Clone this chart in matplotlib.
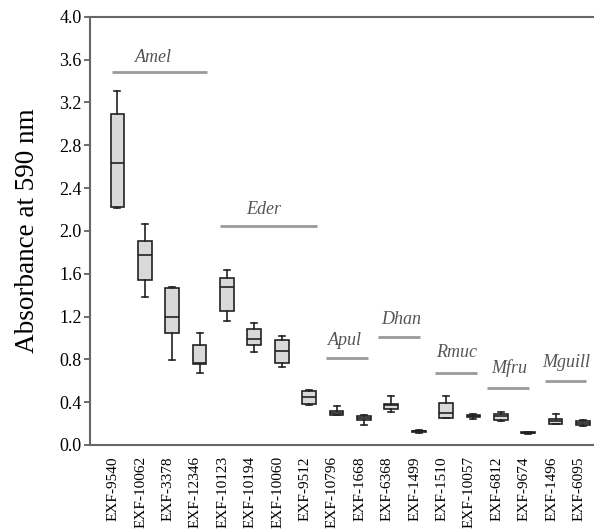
import matplotlib.pyplot as plt

# strain labels (x axis)
strains = ['EXF-9540', 'EXF-10062', 'EXF-3378', 'EXF-12346', 'EXF-10123', 'EXF-10194',
           'EXF-10060', 'EXF-9512', 'EXF-10796', 'EXF-1668', 'EXF-6368', 'EXF-1499',
           'EXF-1510', 'EXF-10057', 'EXF-6812', 'EXF-9674', 'EXF-1496', 'EXF-6095']

# box statistics
whis_lo = [2.21, 1.38, 0.79, 0.67, 1.16, 0.87, 0.73, 0.37, 0.28, 0.19, 0.31, 0.11,
           0.25, 0.24, 0.22, 0.10, 0.20, 0.18]
q1 = [2.22, 1.54, 1.05, 0.76, 1.25, 0.93, 0.77, 0.38, 0.28, 0.23, 0.34, 0.12,
      0.25, 0.26, 0.23, 0.11, 0.20, 0.19]
med = [2.63, 1.77, 1.20, 0.77, 1.48, 0.99, 0.88, 0.45, 0.30, 0.25, 0.37, 0.13,
       0.30, 0.27, 0.27, 0.11, 0.22, 0.21]
q3 = [3.09, 1.91, 1.47, 0.93, 1.56, 1.08, 0.98, 0.50, 0.32, 0.27, 0.38, 0.13,
      0.39, 0.28, 0.29, 0.12, 0.24, 0.22]
whis_hi = [3.31, 2.06, 1.48, 1.05, 1.63, 1.14, 1.02, 0.51, 0.36, 0.28, 0.46, 0.14,
           0.46, 0.29, 0.31, 0.12, 0.29, 0.23]

# species groups: name, line start, line end, line height, label x, label y
groups = ['Amel', 'Eder', 'Apul', 'Dhan', 'Rmuc', 'Mfru', 'Mguill']
grp_start = [-0.18, 3.76, 7.63, 9.53, 11.6, 13.5, 15.6]
grp_end = [3.28, 7.3, 9.16, 11.06, 13.14, 15.04, 17.1]
grp_y = [3.48, 2.05, 0.81, 1.01, 0.67, 0.53, 0.60]
lab_x = [1.31, 5.36, 8.32, 10.36, 12.4, 14.3, 16.4]
lab_y = [3.62, 2.20, 0.98, 1.17, 0.86, 0.72, 0.77]

plt.rcParams['font.family'] = ['Liberation Serif', 'DejaVu Serif']

fig = plt.figure(figsize=(5.94, 5.30), dpi=100)
ax = fig.add_axes([0.1515, 0.1604, 0.8485, 0.808])

stats = []
for i in range(len(strains)):
    stats.append({'whislo': whis_lo[i], 'q1': q1[i], 'med': med[i],
                  'q3': q3[i], 'whishi': whis_hi[i], 'fliers': []})

ax.bxp(stats, positions=range(len(strains)), widths=0.5, patch_artist=True,
       showfliers=False,
       boxprops=dict(facecolor='#d9d9d9', edgecolor='#222222', linewidth=1.2),
       medianprops=dict(color='#222222', linewidth=1.2),
       whiskerprops=dict(color='#222222', linewidth=1.2),
       capprops=dict(color='#222222', linewidth=1.2), capwidths=0.22)

for i in range(len(groups)):
    ax.plot([grp_start[i], grp_end[i]], [grp_y[i], grp_y[i]], color='#9a9a9a', lw=2,
            solid_capstyle='butt')
    ax.text(lab_x[i], lab_y[i], groups[i], ha='center', va='center', style='italic',
            fontsize=13, color='#555555')

ax.set_xlim(-1.0, 17.4)
ax.set_ylim(0, 4.0)
ax.set_yticks([0.4 * k for k in range(11)])
ax.set_yticklabels(['%.1f' % (0.4 * k) for k in range(11)], fontsize=13)
ax.set_xticks([p - 0.15 for p in range(len(strains))])
ax.set_xticklabels(strains, rotation=90, fontsize=11)
ax.tick_params(axis='x', length=0, pad=8)
ax.tick_params(axis='y', length=4, width=1.2, color='#555555', pad=2)
ax.set_ylabel('Absorbance at 590 nm', fontsize=19.5, labelpad=14)

for s in ['left', 'top', 'bottom']:
    ax.spines[s].set_linewidth(1.5)
    ax.spines[s].set_color('#666666')
ax.spines['right'].set_visible(False)

fig.savefig('out.png', dpi=100)
